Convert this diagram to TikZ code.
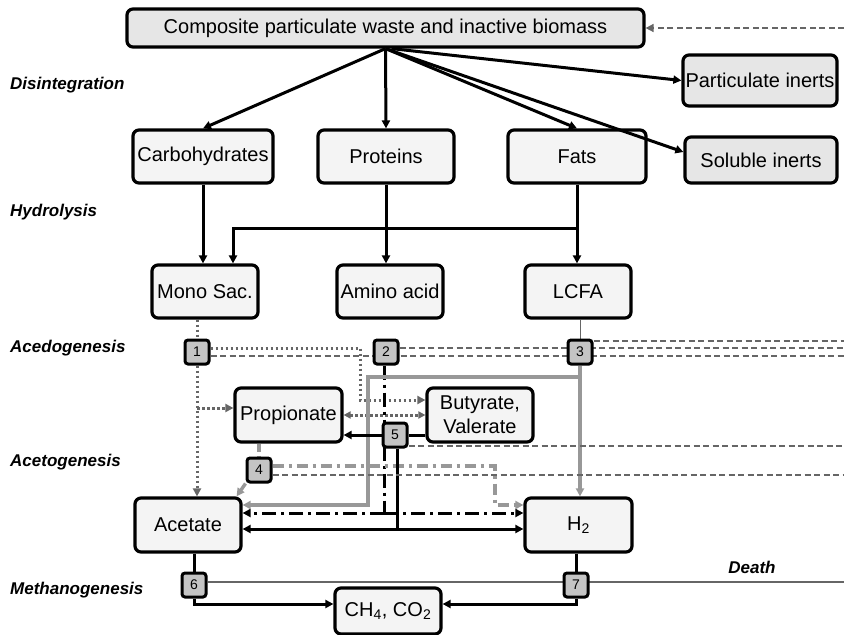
\documentclass[tikz,border=0pt]{standalone}
\usepackage{fontspec}
\setmainfont{Liberation Sans}
\usetikzlibrary{arrows.meta,backgrounds}

\definecolor{boxfill}{HTML}{F4F4F4}
\definecolor{topfill}{HTML}{E6E6E6}
\definecolor{procfill}{HTML}{C4C4C4}
\definecolor{lightline}{HTML}{989898}
\definecolor{dotline}{HTML}{666666}
\definecolor{deadline}{HTML}{666666}

\begin{document}
\begin{tikzpicture}[x=1pt,y=-1pt,
 every node/.style={font=\fontsize{20}{24}\selectfont},
 box/.style={draw, line width=3.2pt, rounded corners=6pt, fill=boxfill, inner sep=0pt, align=center},
 proc/.style={draw, line width=3pt, rounded corners=3pt, fill=procfill, minimum size=24pt, inner sep=0pt, font=\fontsize{14}{14}\selectfont},
 stage/.style={anchor=west, inner sep=0pt, font=\fontsize{17}{17}\selectfont\bfseries\itshape},
 tip/.style={-{Triangle[length=8pt,width=8pt]}},
 twotips/.style={{Triangle[length=7pt,width=7pt]}-{Triangle[length=7pt,width=7pt]}},
 flow/.style={line width=3pt},
 dots/.style={dotline, line width=3pt, dash pattern=on 2.6pt off 2.4pt},
 gline/.style={lightline, line width=3.4pt},
 gdash/.style={lightline, line width=3.4pt, dash pattern=on 8pt off 4pt},
 gdashdot/.style={lightline, line width=3.4pt, dash pattern=on 11pt off 5pt on 3pt off 5pt},
 kdashdot/.style={line width=3pt, dash pattern=on 14pt off 5pt on 3pt off 5pt},
 dead/.style={deadline, line width=1.6pt, dash pattern=on 6pt off 3.5pt},
 deathline/.style={deadline, line width=1.5pt}]
\useasboundingbox (0,0) rectangle (844,635);

\node[box, fill=topfill, minimum width=517pt, minimum height=38pt] (comp) at (385.5,28) {Composite particulate waste and inactive biomass};
\node[box, fill=topfill, minimum width=154pt, minimum height=51pt] (pinert) at (760,80.5) {Particulate inerts};
\node[box, fill=topfill, minimum width=152pt, minimum height=46pt] (sinert) at (761,160) {Soluble inerts};
\node[box, minimum width=140pt, minimum height=53pt] (carb) at (203,156.5) {Carbohydrates};
\node[box, minimum width=136pt, minimum height=53pt] (prot) at (386,156.5) {Proteins};
\node[box, minimum width=138pt, minimum height=53pt] (fats) at (577,156.5) {Fats};
\node[box, minimum width=106pt, minimum height=53pt] (mono) at (205,291.5) {Mono Sac.};
\node[box, minimum width=106pt, minimum height=53pt] (amino) at (390,291.5) {Amino acid};
\node[box, minimum width=106pt, minimum height=53pt] (lcfa) at (578,291.5) {LCFA};
\node[box, minimum width=107pt, minimum height=54pt] (prop) at (288.5,415) {Propionate};
\node[box, minimum width=106pt, minimum height=54pt] (buty) at (480,415) {Butyrate,\\ Valerate};
\node[box, minimum width=106pt, minimum height=54pt] (acet) at (188,525) {Acetate};
\node[box, minimum width=107pt, minimum height=54pt] (htwo) at (578.5,525) {H\textsubscript{2}};
\node[box, minimum width=106pt, minimum height=46pt] (ch4) at (388,611) {CH\textsubscript{4}, CO\textsubscript{2}};

\node[proc] (p1) at (197,352) {1};
\node[proc] (p2) at (386,352) {2};
\node[proc] (p3) at (580,352) {3};
\node[proc] (p4) at (259,470) {4};
\node[proc] (p5) at (395,435) {5};
\node[proc] (p6) at (194,585) {6};
\node[proc] (p7) at (576,585) {7};

\node[stage] (ldis) at (10,85) {Disintegration};
\node[stage] (lhyd) at (10,212) {Hydrolysis};
\node[stage] (lacd) at (10,348) {Acedogenesis};
\node[stage] (lact) at (10,462) {Acetogenesis};
\node[stage] (lmet) at (10,590) {Methanogenesis};
\node[stage, anchor=center] (ldeath) at (752,567) {Death};

\coordinate (rim) at (844,0);
\coordinate (rtop) at (844,28);
\coordinate (hfork) at (577,228);
\coordinate (bend1) at (360,400);
\coordinate (propin) at ([yshift=7pt]prop.west);
\coordinate (j2) at (384,513);
\coordinate (j5) at (397,529);
\coordinate (g1) at (580,377);
\coordinate (g2) at (368,505);
\coordinate (g4) at (495,505);
\coordinate (d1) at ([yshift=-4pt]p1.east);
\coordinate (d2) at ([yshift=4pt]p2.east);
\coordinate (d3) at ([yshift=11pt]p3.east);
\coordinate (d4) at ([yshift=-5pt]p4.east);
\coordinate (d5) at ([yshift=-11pt]p5.east);
\coordinate (d6) at ([yshift=3pt]p6.east);

% this one runs over the corner of the Fats box
\draw[flow, tip] (comp.south) -- ([yshift=8pt]sinert.west);

\begin{pgfonlayer}{background}
% disintegration
\draw[flow, tip] (comp.south) -- (carb.north);
\draw[flow, tip] (comp.south) -- (prot.north);
\draw[flow, tip] (comp.south) -- (fats.north);
\draw[flow, tip] ([xshift=6pt]comp.south) -- (pinert.west);
\draw[dead, tip] (rtop) -- (comp.east);
% hydrolysis
\draw[flow, tip] (carb.south) -- (carb.south |- mono.north);
\draw[flow, tip] (prot.south) -- (prot.south |- amino.north);
\draw[flow, tip] (fats.south) -- (fats.south |- lcfa.north);
\draw[flow, tip] (hfork) -| ([xshift=28pt]mono.north);
% acidogenesis and acetogenesis
\draw[dots] (mono.south -| p1) -- (p1.north);
\draw[dots, tip] (p1.south) -- (p1.south |- acet.north);
\draw[dots, tip] (propin -| p1) -- (propin);
\draw[dots, tip] ([yshift=4pt]p1.east) -| (bend1) -- (bend1 -| buty.west);
\draw[dots, twotips] (prop.east) -- (buty.west);
\draw[kdashdot] (p2.south -| j2) -- (j2);
\draw[kdashdot, tip] (j2) -- (j2 -| acet.east);
\draw[kdashdot, tip] (j2) -- (j2 -| htwo.west);
\draw[deadline, line width=1pt] (lcfa.south -| p3) -- (p3.north);
\draw[gline, tip] (p3.south) -- (p3.south |- htwo.north);
\draw[gline, tip] (g1) -| (g2) -- (g2 -| acet.east);
\draw[gdash] (prop.south -| p4) -- (p4.north);
\draw[gdash, tip] (p4.south west) -- ([xshift=-6pt]acet.north east);
\draw[gdashdot, tip] ([yshift=4pt]p4.east) -| (g4) -- (g4 -| htwo.west);
\draw[flow] (buty.west |- p5) -- (p5.east);
\draw[flow, tip] (p5.west) -- (p5.west -| prop.east);
\draw[flow, tip] (p5.south -| j5) -- (j5) -- (j5 -| acet.east);
\draw[flow, tip] (j5) -- (j5 -| htwo.west);
% methanogenesis
\draw[flow] (acet.south -| p6) -- (p6.north);
\draw[flow, tip] (p6.south) |- ([yshift=7pt]ch4.west);
\draw[flow] (htwo.south -| p7) -- (p7.north);
\draw[flow, tip] (p7.south) |- ([yshift=7pt]ch4.east);
% decay
\draw[dead] (d1) -- (d1 -| rim);
\draw[dead] (d2) -- (d2 -| rim);
\draw[dead] (d3) -- (d3 -| rim);
\draw[dead] (d4) -- (d4 -| rim);
\draw[dead] (d5) -- (d5 -| rim);
\draw[deathline] (d6) -- (d6 -| rim);
\end{pgfonlayer}
\end{tikzpicture}
\end{document}
